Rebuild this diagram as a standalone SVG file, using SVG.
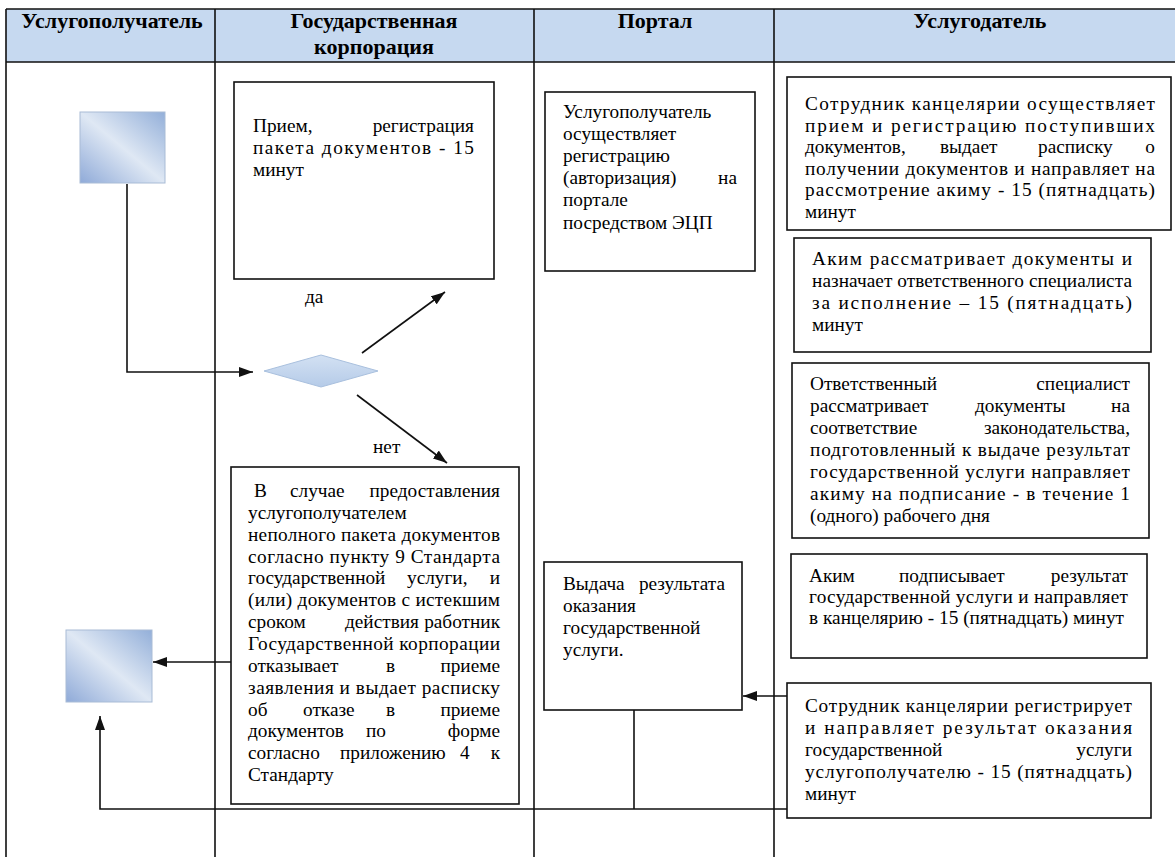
<svg xmlns="http://www.w3.org/2000/svg" width="1175" height="857" viewBox="0 0 1175 857">
<style>
.t{font-family:'Liberation Serif','Times New Roman','DejaVu Serif',serif;font-size:19.3px;fill:#000}
.h{font-family:'Liberation Serif','Times New Roman','DejaVu Serif',serif;font-size:22px;font-weight:bold;fill:#000;text-anchor:middle}
.e{text-anchor:end}
.box{fill:#fff;stroke:#111;stroke-width:1.6}
.grid{stroke:#111;stroke-width:1.6;fill:none}
.conn{stroke:#111;stroke-width:1.6;fill:none}
.sq{fill:url(#sqg);stroke:#a9bcd6;stroke-width:1}
</style>
<defs>
<linearGradient id="sqg" x1="0" y1="1" x2="1" y2="0">
<stop offset="0" stop-color="#8faad8"/>
<stop offset="0.5" stop-color="#dfe8f4"/>
<stop offset="1" stop-color="#93afd9"/>
</linearGradient>
<linearGradient id="dg" x1="0" y1="0" x2="0" y2="1">
<stop offset="0" stop-color="#d3e1f3"/>
<stop offset="1" stop-color="#b5cbe8"/>
</linearGradient>
<marker id="ah" markerWidth="14" markerHeight="10" refX="14" refY="5" orient="auto" markerUnits="userSpaceOnUse">
<path d="M0,0 L14,5 L0,10 z" fill="#111"/>
</marker>
</defs>
<rect width="1175" height="857" fill="#fff"/>
<g id="table">
<rect x="6" y="9" width="1175" height="53" fill="#c6d9f0"/>
<path class="grid" d="M6,9 H1175 M6,62 H1175" stroke-width="2.2" stroke="#2a2a2a"/>
<path class="grid" d="M6,9 V857 M215,9 V857 M534,9 V857 M774,9 V857"/>
<text class="h" x="112" y="28">Услугополучатель</text>
<text class="h" x="374" y="28">Государственная</text>
<text class="h" x="374" y="54">корпорация</text>
<text class="h" x="655" y="28">Портал</text>
<text class="h" x="980" y="28">Услугодатель</text>
</g>
<g id="connectors">
<path class="conn" d="M127,184 V372 H253" marker-end="url(#ah)"/>
<path class="conn" d="M362,353 L445,292" marker-end="url(#ah)"/>
<path class="conn" d="M357,395 L447,463" marker-end="url(#ah)"/>
<path class="conn" d="M246,662 H153" marker-end="url(#ah)"/>
<path class="conn" d="M790,696 H743" marker-end="url(#ah)"/>
<path class="conn" d="M634,710 V809"/>
<path class="conn" d="M790,809 H100 V716" stroke="#333" stroke-width="2" marker-end="url(#ah)"/>
</g>
<g id="start">
<rect class="sq" x="80" y="112" width="85" height="71"/>
</g>
<g id="end">
<rect class="sq" x="66" y="630" width="86" height="72"/>
</g>
<g id="decision">
<polygon points="264,371 321,355 378,371 321,387" fill="url(#dg)" stroke="#a9c0de" stroke-width="1"/>
<text class="t" x="305" y="303">да</text>
<text class="t" x="373" y="453">нет</text>
</g>
<g id="reception">
<rect class="box" x="234" y="82" width="260" height="197"/>
<text class="t" x="253" y="132">Прием,</text>
<text class="t e" x="474" y="132">регистрация</text>
<text class="t" x="253" y="154" textLength="221" lengthAdjust="spacing">пакета документов - 15</text>
<text class="t" x="253" y="176">минут</text>
</g>
<g id="refusal">
<rect class="box" x="231" y="467" width="288" height="337"/>
<text class="t" x="254" y="497">В</text>
<text class="t" x="290" y="497">случае</text>
<text class="t e" x="500" y="497">предоставления</text>
<text class="t" x="248" y="518.9">услугополучателем</text>
<text class="t" x="248" y="540.7" textLength="252" lengthAdjust="spacing">неполного пакета документов</text>
<text class="t" x="248" y="562.6" textLength="252" lengthAdjust="spacing">согласно пункту 9 Стандарта</text>
<text class="t" x="248" y="584.4">государственной</text>
<text class="t" x="407" y="584.4">услуги,</text>
<text class="t e" x="500" y="584.4">и</text>
<text class="t" x="248" y="606.3" textLength="252" lengthAdjust="spacing">(или) документов с истекшим</text>
<text class="t" x="248" y="628.1">сроком</text>
<text class="t" x="345" y="628.1">действия</text>
<text class="t e" x="500" y="628.1">работник</text>
<text class="t" x="248" y="650" textLength="252" lengthAdjust="spacing">Государственной корпорации</text>
<text class="t" x="248" y="671.8">отказывает</text>
<text class="t" x="386" y="671.8">в</text>
<text class="t e" x="500" y="671.8">приеме</text>
<text class="t" x="248" y="693.7" textLength="252" lengthAdjust="spacing">заявления и выдает расписку</text>
<text class="t" x="248" y="715.5">об</text>
<text class="t" x="303" y="715.5">отказе</text>
<text class="t" x="386" y="715.5">в</text>
<text class="t e" x="500" y="715.5">приеме</text>
<text class="t" x="248" y="737.4">документов</text>
<text class="t" x="366" y="737.4">по</text>
<text class="t e" x="500" y="737.4">форме</text>
<text class="t" x="248" y="759.2">согласно</text>
<text class="t" x="340" y="759.2">приложению</text>
<text class="t" x="460" y="759.2">4</text>
<text class="t e" x="500" y="759.2">к</text>
<text class="t" x="248" y="781">Стандарту</text>
</g>
<g id="portal-auth">
<rect class="box" x="545" y="92" width="210" height="179"/>
<text class="t" x="563" y="118">Услугополучатель</text>
<text class="t" x="563" y="140">осуществляет</text>
<text class="t" x="563" y="162">регистрацию</text>
<text class="t" x="563" y="184">(авторизация)</text>
<text class="t e" x="737" y="184">на</text>
<text class="t" x="563" y="206">портале</text>
<text class="t" x="563" y="229">посредством ЭЦП</text>
</g>
<g id="portal-result">
<rect class="box" x="544" y="562" width="198" height="148"/>
<text class="t" x="563" y="590">Выдача</text>
<text class="t e" x="725" y="590">результата</text>
<text class="t" x="563" y="612">оказания</text>
<text class="t" x="563" y="634">государственной</text>
<text class="t" x="563" y="656">услуги.</text>
</g>
<g id="office-receive">
<rect class="box" x="787" y="77" width="384" height="153"/>
<text class="t" x="805" y="110" textLength="350" lengthAdjust="spacing">Сотрудник канцелярии осуществляет</text>
<text class="t" x="805" y="131.6" textLength="350" lengthAdjust="spacing">прием и регистрацию поступивших</text>
<text class="t" x="805" y="153.2">документов,</text>
<text class="t" x="940" y="153.2">выдает</text>
<text class="t" x="1038" y="153.2">расписку</text>
<text class="t e" x="1155" y="153.2">о</text>
<text class="t" x="805" y="174.8" textLength="350" lengthAdjust="spacing">получении документов и направляет на</text>
<text class="t" x="805" y="196.4" textLength="350" lengthAdjust="spacing">рассмотрение акиму - 15 (пятнадцать)</text>
<text class="t" x="805" y="218">минут</text>
</g>
<g id="akim-review">
<rect class="box" x="794" y="238" width="357" height="114"/>
<text class="t" x="812" y="265" textLength="320" lengthAdjust="spacing">Аким рассматривает документы и</text>
<text class="t" x="812" y="287" textLength="320" lengthAdjust="spacing">назначает ответственного специалиста</text>
<text class="t" x="812" y="309" textLength="320" lengthAdjust="spacing">за исполнение – 15 (пятнадцать)</text>
<text class="t" x="812" y="331">минут</text>
</g>
<g id="specialist">
<rect class="box" x="792" y="363" width="357" height="175"/>
<text class="t" x="810" y="390">Ответственный</text>
<text class="t e" x="1130" y="390">специалист</text>
<text class="t" x="810" y="412">рассматривает</text>
<text class="t" x="975" y="412">документы</text>
<text class="t e" x="1130" y="412">на</text>
<text class="t" x="810" y="434">соответствие</text>
<text class="t e" x="1130" y="434">законодательства,</text>
<text class="t" x="810" y="456" textLength="320" lengthAdjust="spacing">подготовленный к выдаче результат</text>
<text class="t" x="810" y="478" textLength="320" lengthAdjust="spacing">государственной услуги направляет</text>
<text class="t" x="810" y="500" textLength="320" lengthAdjust="spacing">акиму на подписание - в течение 1</text>
<text class="t" x="810" y="522">(одного) рабочего дня</text>
</g>
<g id="akim-sign">
<rect class="box" x="791" y="554" width="356" height="104"/>
<text class="t" x="809" y="582">Аким</text>
<text class="t" x="899" y="582">подписывает</text>
<text class="t e" x="1128" y="582">результат</text>
<text class="t" x="809" y="603" textLength="319" lengthAdjust="spacing">государственной услуги и направляет</text>
<text class="t" x="809" y="624" textLength="315" lengthAdjust="spacing">в канцелярию - 15 (пятнадцать) минут</text>
</g>
<g id="office-send">
<rect class="box" x="787" y="683" width="364" height="135"/>
<text class="t" x="805" y="712" textLength="327" lengthAdjust="spacing">Сотрудник канцелярии регистрирует</text>
<text class="t" x="805" y="734" textLength="327" lengthAdjust="spacing">и направляет результат оказания</text>
<text class="t" x="805" y="756">государственной</text>
<text class="t e" x="1132" y="756">услуги</text>
<text class="t" x="805" y="778" textLength="327" lengthAdjust="spacing">услугополучателю - 15 (пятнадцать)</text>
<text class="t" x="805" y="800">минут</text>
</g>
</svg>
